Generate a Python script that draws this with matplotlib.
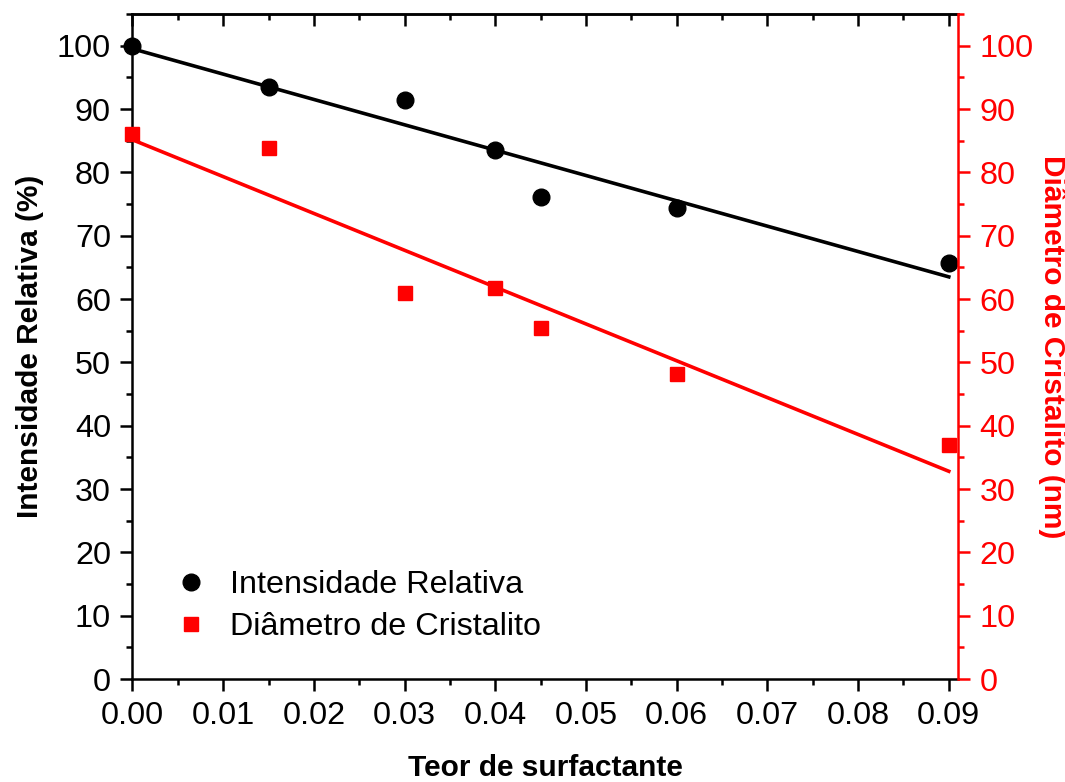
import numpy as np
import matplotlib
matplotlib.use("Agg")
import matplotlib.pyplot as plt
from matplotlib.ticker import MultipleLocator

plt.rcParams["font.family"] = ["Liberation Sans", "DejaVu Sans"]

teor = [0.0, 0.015, 0.03, 0.04, 0.045, 0.06, 0.09]
intensidade = [100.0, 93.5, 91.5, 83.5, 76.1, 74.3, 65.7]
diametro = [86.0, 83.8, 61.0, 61.7, 55.5, 48.2, 37.0]

RED = "#ff0000"
FS = 23.3
LFS = 21.5


def main():
    fig = plt.figure(figsize=(10.65, 7.82), dpi=100)
    ax = fig.add_axes([0.1244, 0.1317, 0.775, 0.8503])
    ax2 = ax.twinx()

    x = np.array(teor)
    xfit = np.array([0.0, 0.09])

    # linear fits
    k1 = np.polyfit(x, intensidade, 1)
    k2 = np.polyfit(x, diametro, 1)

    ax.plot(xfit, np.polyval(k1, xfit), color="black", lw=2.6, zorder=2)
    ax.plot(x, intensidade, "o", color="black", ms=12, zorder=3,
            label="Intensidade Relativa", clip_on=False)
    ax2.plot(xfit, np.polyval(k2, xfit), color=RED, lw=2.6, zorder=2)
    ax2.plot(x, diametro, "s", color=RED, ms=10, zorder=3,
             label="Diâmetro de Cristalito", clip_on=False)

    ax.set_xlim(0, 0.091)
    ax.set_ylim(0, 105)
    ax2.set_ylim(0, 105)

    ax.xaxis.set_major_locator(MultipleLocator(0.01))
    ax.xaxis.set_minor_locator(MultipleLocator(0.005))
    ax.xaxis.set_major_formatter(matplotlib.ticker.FormatStrFormatter("%.2f"))
    for a in (ax, ax2):
        a.yaxis.set_major_locator(MultipleLocator(10))
        a.yaxis.set_minor_locator(MultipleLocator(5))

    ax.tick_params(which="both", direction="out", width=1.8, labelsize=FS,
                   pad=7, right=False)
    ax.tick_params(which="major", length=8.5)
    ax.tick_params(which="minor", length=4.5)
    ax2.tick_params(which="both", direction="out", width=1.8, labelsize=FS,
                    pad=7, colors=RED)
    ax2.tick_params(which="major", length=8.5)
    ax2.tick_params(which="minor", length=4.5)

    # top axis: inward ticks, no labels
    top = ax.secondary_xaxis("top")
    top.xaxis.set_major_locator(MultipleLocator(0.01))
    top.xaxis.set_minor_locator(MultipleLocator(0.005))
    top.tick_params(which="both", direction="in", width=1.8, labeltop=False)
    top.tick_params(which="major", length=8.5)
    top.tick_params(which="minor", length=4.5)
    top.spines["top"].set_linewidth(1.8)

    for s in ax.spines.values():
        s.set_linewidth(1.8)
    ax.spines["right"].set_visible(False)
    for name in ("left", "top", "bottom"):
        ax2.spines[name].set_visible(False)
    ax2.spines["right"].set_color(RED)
    ax2.spines["right"].set_linewidth(1.8)

    ax.set_xlabel("Teor de surfactante", fontsize=LFS, fontweight="bold",
                  labelpad=17)
    ax.set_ylabel("Intensidade Relativa (%)", fontsize=LFS, fontweight="bold",
                  labelpad=9)
    ax2.set_ylabel("Diâmetro de Cristalito (nm)", fontsize=LFS,
                   fontweight="bold", color=RED, rotation=270, labelpad=24)

    h1, l1 = ax.get_legend_handles_labels()
    h2, l2 = ax2.get_legend_handles_labels()
    ax2.legend(h1 + h2, l1 + l2, loc="lower left",
               bbox_to_anchor=(0.012, 0.012), frameon=False, fontsize=FS,
               handletextpad=0.6, labelspacing=0.36, handlelength=1.2)

    fig.savefig("out.png", dpi=100)
    plt.close(fig)


if __name__ == "__main__":
    main()
